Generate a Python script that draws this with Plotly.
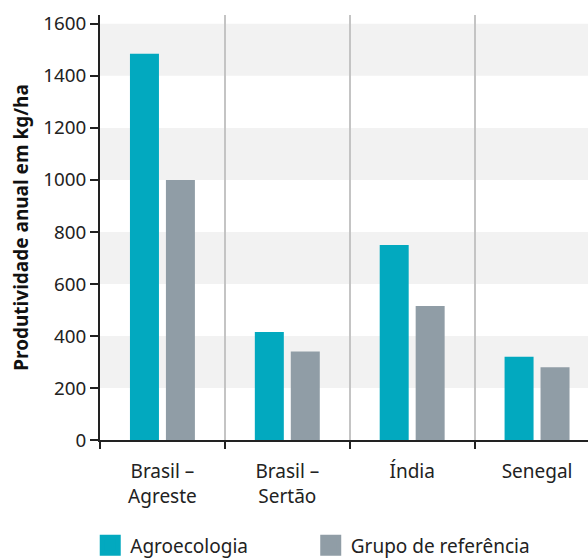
import plotly.graph_objects as go

categories = ["Brasil –<br>Agreste", "Brasil –<br>Sertão", "Índia", "Senegal"]
agroecologia = [1485, 415, 750, 320]
referencia = [1000, 340, 515, 280]
series_names = ["Agroecologia", "Grupo de referência"]
colors = ["#02a9bf", "#909da6"]
y_ticks = [0, 200, 400, 600, 800, 1000, 1200, 1400, 1600]
band_ranges = [(200, 400), (600, 800), (1000, 1200), (1400, 1600)]

FONT = "Noto Sans"

fig = go.Figure()
for name, vals, col in zip(series_names, [agroecologia, referencia], colors):
    fig.add_trace(go.Bar(x=categories, y=vals, name=name, marker_color=col,
                         marker_line_width=0, showlegend=False))
# legend proxies (large squares)
for name, col in zip(series_names, colors):
    fig.add_trace(go.Scatter(x=[None], y=[None], mode="markers", name=name,
                             marker=dict(symbol="square", size=16, color=col,
                                         line=dict(color=col, width=6)),
                             showlegend=True))

shapes = []
for lo, hi in band_ranges:
    shapes.append(dict(type="rect", xref="paper", yref="y", x0=0, x1=1, y0=lo, y1=hi,
                       fillcolor="#f2f2f2", line_width=0, layer="below"))

fig.update_layout(
    width=588, height=558,
    margin=dict(l=99.5, r=0, t=15, b=118, autoexpand=False),
    paper_bgcolor="white", plot_bgcolor="white",
    barmode="group", bargap=0.424, bargroupgap=0.194,
    font=dict(family=FONT, size=19, color="#222"),
    shapes=shapes,
    showlegend=True,
    legend=dict(orientation="h", x=-0.02, xanchor="left", y=-0.248, yanchor="middle",
                entrywidth=175.5, entrywidthmode="pixels",
                font=dict(family=FONT, size=19, color="#222"),
                itemsizing="trace", bgcolor="rgba(0,0,0,0)"),
    xaxis=dict(type="category", range=[-0.5, 3.408], tickson="boundaries",
               showgrid=True, gridcolor="#c4c4c4", gridwidth=1.5,
               ticks="outside", ticklen=7, tickwidth=2, tickcolor="#222",
               showline=True, linecolor="#222", linewidth=2, automargin=False,
               ticklabelstandoff=13,
               tickfont=dict(family=FONT, size=19, color="#222"), zeroline=False),
    yaxis=dict(range=[0, 1634], tickvals=y_ticks, showgrid=False, zeroline=False,
               ticks="outside", ticklen=8, tickwidth=2, tickcolor="#222",
               showline=True, linecolor="#222", linewidth=2, automargin=False,
               tickfont=dict(family=FONT, size=18.8, color="#222"),
               title=dict(text="<b>Produtividade anual em kg/ha</b>",
                          font=dict(family=FONT, size=19, color="#111"), standoff=10)),
)

fig.write_html("out.html", config={"displayModeBar": False},
               post_script="document.body.style.margin='0px';")
